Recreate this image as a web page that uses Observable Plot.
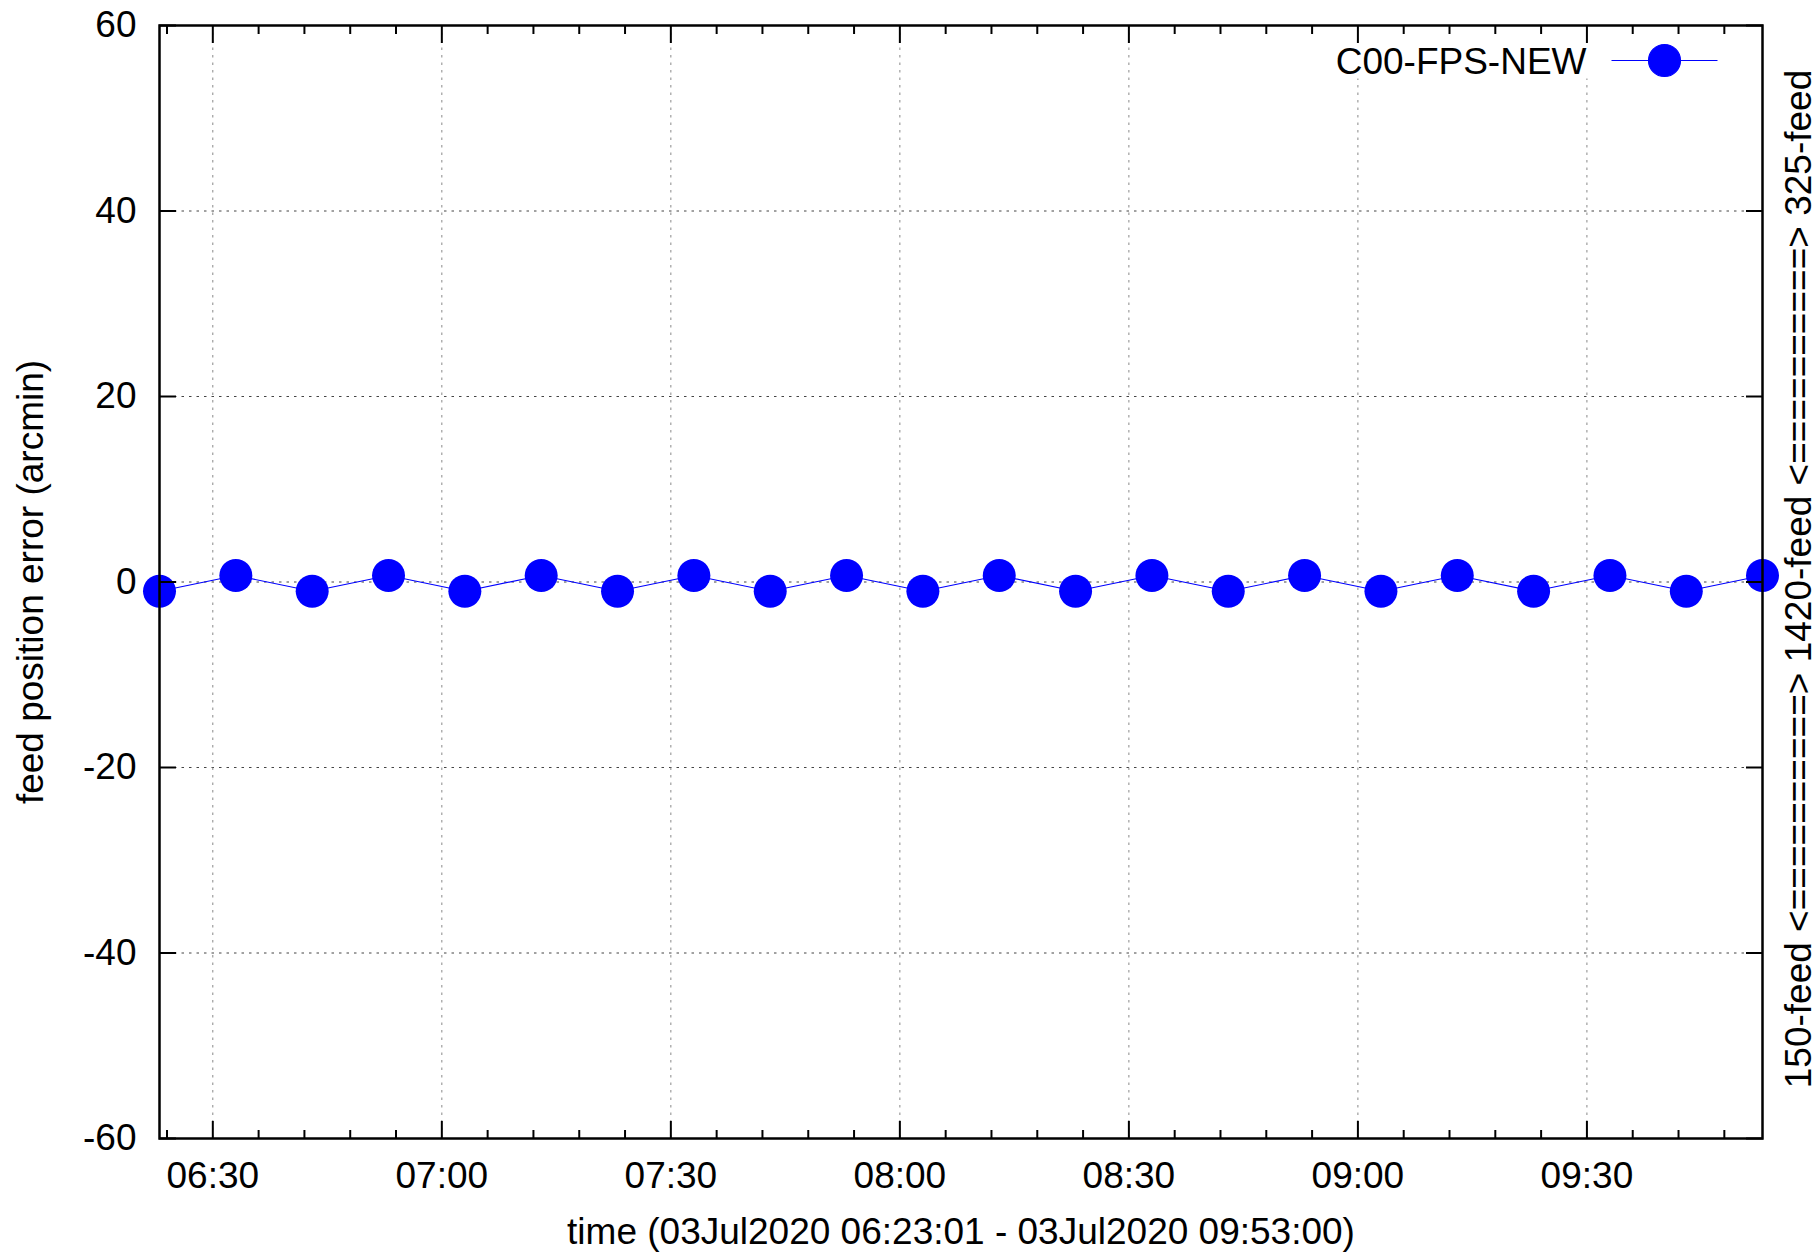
<!DOCTYPE html>
<html>
<head>
<meta charset="utf-8">
<script src="https://cdn.jsdelivr.net/npm/d3@7"></script>
<script src="https://cdn.jsdelivr.net/npm/@observablehq/plot@0.6"></script>
<style>
  html, body { margin: 0; padding: 0; background: #fff; }
  #chart svg { display: block; }
</style>
</head>
<body>
<div id="chart"></div>
<script>
// ---- data ----
const day = "2020-07-03";
const times = [
  "06:23:01", "06:33:01", "06:43:01", "06:53:01", "07:03:01", "07:13:01",
  "07:23:01", "07:33:01", "07:43:01", "07:53:01", "08:03:01", "08:13:01",
  "08:23:01", "08:33:01", "08:43:01", "08:53:01", "09:03:01", "09:13:01",
  "09:23:01", "09:33:01", "09:43:01", "09:53:00"
];
const errors = [
  -1.0, 0.7, -1.0, 0.7, -1.0, 0.7,
  -1.0, 0.7, -1.0, 0.7, -1.0, 0.7,
  -1.0, 0.7, -1.0, 0.7, -1.0, 0.7,
  -1.0, 0.7, -1.0, 0.7
];
const seriesName = "C00-FPS-NEW";
const xStart = "06:23:01";
const xEnd = "09:53:00";
const yTicks = [-60, -40, -20, 0, 20, 40, 60];
const yTickLabels = ["-60", "-40", "-20", "0", "20", "40", "60"];
const yGrid = [-40, -20, 0, 20, 40];
const xMajorTicks = ["06:30", "07:00", "07:30", "08:00", "08:30", "09:00", "09:30"];
const xTitle = "time (03Jul2020 06:23:01 - 03Jul2020 09:53:00)";
const yTitle = "feed position error (arcmin)";
const y2Title = "150-feed <==========> 1420-feed <==========> 325-feed";

// ---- build ----
const toDate = (t) => new Date(`${day}T${t.length === 5 ? t + ":00" : t}Z`);
const data = times.map((t, i) => ({time: toDate(t), error: errors[i]}));
const xDomain = [toDate(xStart), toDate(xEnd)];
const majorDates = xMajorTicks.map(toDate);
const majorSet = new Set(majorDates.map(d => +d));
const minorDates = d3.utcMinute.every(6).range(xDomain[0], xDomain[1]).filter(d => !majorSet.has(+d));
const xLabelOf = new Map(majorDates.map((d, i) => [+d, xMajorTicks[i]]));
const yLabelOf = new Map(yTicks.map((v, i) => [v, yTickLabels[i]]));

const FONT = "'Liberation Sans', Arial, Helvetica, sans-serif";
const FS = 37;
const BLUE = "#0000ff";
const none = () => "";

const legendSymbol = {
  draw(context, size) {
    const r = Math.sqrt(size / Math.PI);
    context.moveTo(-53, 0); context.lineTo(-r, 0);
    context.moveTo(r, 0); context.lineTo(53, 0);
    context.moveTo(r, 0); context.arc(0, 0, r, 0, 2 * Math.PI);
  }
};
const keyBoxSymbol = {
  draw(context) { context.rect(-437, 0, 410, 53); }
};

const chart = Plot.plot({
  width: 1817,
  height: 1257,
  marginLeft: 159,
  marginRight: 55,
  marginTop: 25,
  marginBottom: 119,
  style: {fontFamily: FONT, fontSize: FS + "px", background: "white", color: "black"},
  x: {type: "utc", domain: xDomain},
  y: {domain: [-60, 60]},
  marks: [
    Plot.ruleY(yGrid, {stroke: "#444", strokeWidth: 1, strokeDasharray: "2.5,5"}),
    Plot.ruleX(majorDates, {stroke: "#888", strokeWidth: 1, strokeDasharray: "2.5,5"}),
    Plot.dot([seriesName], {frameAnchor: "top-right", symbol: keyBoxSymbol, r: 1, fill: "white", stroke: null}),
    Plot.line(data, {x: "time", y: "error", stroke: BLUE, strokeWidth: 1.2}),
    Plot.dot(data, {x: "time", y: "error", r: 16.5, fill: BLUE, stroke: null}),
    Plot.axisY(yTicks, {anchor: "left", tickSize: -17, tickPadding: 40, tickFormat: v => yLabelOf.get(v), strokeWidth: 2, label: null, fontSize: FS}),
    Plot.axisY(yTicks, {anchor: "right", tickSize: -17, tickFormat: none, strokeWidth: 2, label: null}),
    Plot.axisX(majorDates, {anchor: "bottom", tickSize: -17, tickPadding: 40.7, tickFormat: d => xLabelOf.get(+d), strokeWidth: 2, label: null, fontSize: FS}),
    Plot.axisX(minorDates, {anchor: "bottom", tickSize: -8, tickFormat: none, strokeWidth: 2, label: null}),
    Plot.axisX(majorDates, {anchor: "top", tickSize: -17, tickFormat: none, strokeWidth: 2, label: null}),
    Plot.axisX(minorDates, {anchor: "top", tickSize: -8, tickFormat: none, strokeWidth: 2, label: null}),
    Plot.frame({stroke: "black", strokeWidth: 2.5}),
    Plot.text([xTitle], {text: d => d, frameAnchor: "bottom", textAnchor: "middle", lineAnchor: "bottom", dy: 105, fontSize: FS, fill: "black"}),
    Plot.text([yTitle], {text: d => d, frameAnchor: "left", rotate: -90, textAnchor: "middle", lineAnchor: "bottom", dx: -117, fontSize: FS, fill: "black"}),
    Plot.text([y2Title], {text: d => d, frameAnchor: "right", rotate: -90, textAnchor: "middle", lineAnchor: "bottom", dx: 48, dy: -3, fontSize: FS, fill: "black"}),
    Plot.text([seriesName], {text: d => d, frameAnchor: "top-right", textAnchor: "end", lineAnchor: "bottom", dx: -176, dy: 48, fontSize: FS, fill: "black"}),
    Plot.dot([seriesName], {frameAnchor: "top-right", dx: -98, dy: 35, symbol: legendSymbol, r: 16, fill: BLUE, stroke: BLUE, strokeWidth: 1.2})
  ]
});
document.getElementById("chart").appendChild(chart);
</script>
</body>
</html>
